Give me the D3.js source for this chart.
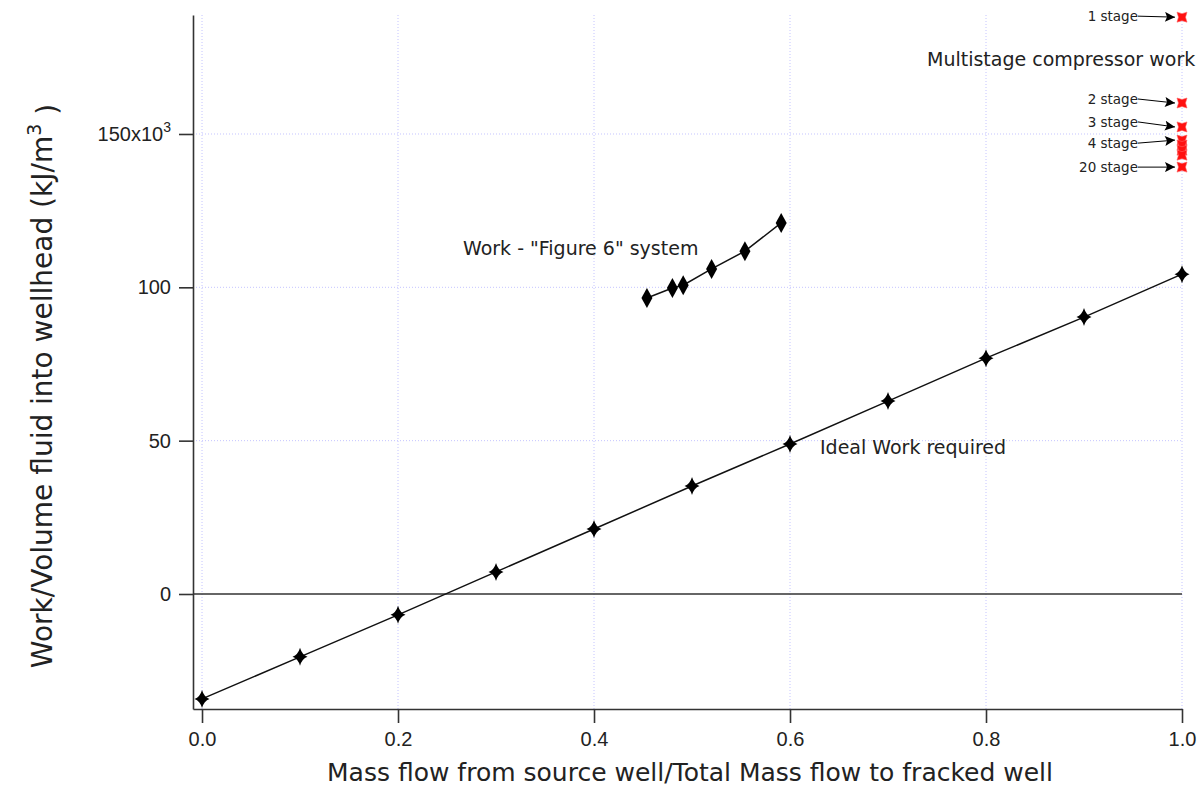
<!DOCTYPE html>
<html>
<head>
<meta charset="utf-8">
<title>Work per volume vs mass flow fraction</title>
<script src="https://d3js.org/d3.v7.min.js"></script>
<style>
  body { margin: 0; background: #fff; }
  svg { display: block; font-family: "DejaVu Sans", Verdana, sans-serif; }
  .axis path, .axis line { stroke: #333; stroke-width: 1.6; fill: none; }
  .axis text { font-size: 20px; fill: #222; }
  .grid line { stroke: #c4c4ff; stroke-width: 1; stroke-dasharray: 1,2; }
  .note { font-size: 19px; fill: #222; }
  .stage { font-size: 13.5px; fill: #222; }
</style>
</head>
<body>
<div id="chart"></div>
<script>
// ideal work, x = 0.0 .. 1.0 in steps of 0.1
var idealX = [0.0, 0.1, 0.2, 0.3, 0.4, 0.5, 0.6, 0.7, 0.8, 0.9, 1.0];
var idealWork = [-34.2, -20.5, -6.8, 7.2, 21.2, 35.2, 48.9, 62.9, 76.9, 90.3, 104.3];

// "Figure 6" system
var fig6X = [0.454, 0.480, 0.491, 0.520, 0.554, 0.591];
var fig6Work = [96.5, 99.8, 100.7, 106.0, 111.8, 121.0];

// multistage compressor, all at x = 1.0
var stages = [1, 2, 3, 4, 5, 6, 8, 20];
var stageWork = [188.1, 160.1, 152.3, 148.0, 146.4, 144.7, 143.1, 139.2];
var labelledStages = [1, 2, 3, 4, 20];

var xTicks = [0, 0.2, 0.4, 0.6, 0.8, 1.0];
var yTicks = [0, 50, 100, 150];

var width = 1202, height = 789;

var svg = d3.select("#chart").append("svg")
    .attr("width", width)
    .attr("height", height);

var x = d3.scaleLinear().domain([-0.0092, 1.0]).range([193, 1182]);
var y = d3.scaleLinear().domain([-37.5, 188.8]).range([709, 15]);

// grid
var grid = svg.append("g").attr("class", "grid");
grid.selectAll(".gx").data(xTicks).enter().append("line")
    .attr("x1", d => x(d)).attr("x2", d => x(d))
    .attr("y1", y.range()[1]).attr("y2", y.range()[0]);
grid.selectAll(".gy").data(yTicks.filter(d => d !== 0)).enter().append("line")
    .attr("x1", x.range()[0]).attr("x2", x.range()[1])
    .attr("y1", d => y(d)).attr("y2", d => y(d));

// zero line
svg.append("line")
    .attr("x1", x.range()[0]).attr("x2", x(1))
    .attr("y1", y(0)).attr("y2", y(0))
    .attr("stroke", "#333").attr("stroke-width", 1.5);

// axes
svg.append("g")
    .attr("class", "axis")
    .attr("transform", "translate(0," + y.range()[0] + ")")
    .call(d3.axisBottom(x).tickValues(xTicks).tickFormat(d3.format(".1f"))
        .tickSize(14).tickSizeOuter(0).tickPadding(9));

var yAxisG = svg.append("g")
    .attr("class", "axis")
    .attr("transform", "translate(" + x.range()[0] + ",0)")
    .call(d3.axisLeft(y).tickValues(yTicks).tickFormat(d3.format("d"))
        .tickSize(14).tickSizeOuter(0).tickPadding(8));

// 150x10^3 label
yAxisG.selectAll(".tick text").filter(d => d === 150)
    .text(null)
    .call(function(t) {
        t.append("tspan").text("150x10");
        t.append("tspan").attr("dy", "-0.6em").attr("font-size", "14px").text("3");
    });

// axis titles
svg.append("text")
    .attr("x", 690).attr("y", 781)
    .attr("text-anchor", "middle")
    .attr("font-size", "25px").attr("fill", "#222")
    .text("Mass flow from source well/Total Mass flow to fracked well");

var yt = svg.append("text")
    .attr("transform", "translate(52,386) rotate(-90)")
    .attr("text-anchor", "middle")
    .attr("font-size", "28px").attr("fill", "#222");
yt.append("tspan").text("Work/Volume fluid into wellhead (kJ/m");
yt.append("tspan").attr("dy", "-0.6em").attr("font-size", "19px").text("3");
yt.append("tspan").attr("dy", "0.6em").text(" )");

// markers
var starPath = "M0,-9 Q2,-2 7.5,0 Q2,2 0,9 Q-2,2 -7.5,0 Q-2,-2 0,-9Z";
var diamondPath = "M0,-10 L5.5,0 L0,10 L-5.5,0Z";
var bowPath = "M-5,-5 L0,-3.5 L5,-5 L3.5,0 L5,5 L0,3.5 L-5,5 L-3.5,0Z";

var line = d3.line().x(d => x(d[0])).y(d => y(d[1]));

var ideal = d3.zip(idealX, idealWork);
svg.append("path").datum(ideal)
    .attr("d", line).attr("fill", "none")
    .attr("stroke", "#111").attr("stroke-width", 1.5);
svg.selectAll(".ideal").data(ideal).enter().append("path")
    .attr("d", starPath)
    .attr("transform", d => "translate(" + x(d[0]) + "," + y(d[1]) + ")")
    .attr("fill", "#000");

var fig6 = d3.zip(fig6X, fig6Work);
svg.append("path").datum(fig6)
    .attr("d", line).attr("fill", "none")
    .attr("stroke", "#111").attr("stroke-width", 1.5);
svg.selectAll(".fig6").data(fig6).enter().append("path")
    .attr("d", diamondPath)
    .attr("transform", d => "translate(" + x(d[0]) + "," + y(d[1]) + ")")
    .attr("fill", "#000");

svg.selectAll(".stagept").data(stageWork).enter().append("path")
    .attr("d", bowPath)
    .attr("transform", d => "translate(" + x(1) + "," + y(d) + ")")
    .attr("fill", "#ff1010").attr("stroke", "#ff6060").attr("stroke-width", 0.6);

// arrows to stage points
svg.append("defs").append("marker")
    .attr("id", "arrow")
    .attr("viewBox", "0 0 10 10")
    .attr("refX", 10).attr("refY", 5)
    .attr("markerWidth", 20).attr("markerHeight", 10)
    .attr("markerUnits", "userSpaceOnUse")
    .attr("orient", "auto")
    .append("path").attr("d", "M0,0 L10,5 L0,10 L2,5Z").attr("fill", "#000");

// label offset from the point (px): how far the text sits above/below
var labelShift = {1: -1, 2: -4, 3: -5, 4: 3, 20: 0};

labelledStages.forEach(function(s) {
    var w = stageWork[stages.indexOf(s)];
    var py = y(w), ly = py + labelShift[s];
    svg.append("text").attr("class", "stage")
        .attr("x", x(1) - 44).attr("y", ly).attr("dy", "0.35em")
        .attr("text-anchor", "end")
        .text(s + " stage");
    svg.append("line")
        .attr("x1", x(1) - 44).attr("y1", ly)
        .attr("x2", x(1) - 7).attr("y2", py)
        .attr("stroke", "#000").attr("stroke-width", 1)
        .attr("marker-end", "url(#arrow)");
});

// annotations
svg.append("text").attr("class", "note")
    .attr("x", 927).attr("y", 59).attr("dy", "0.35em")
    .text("Multistage compressor work");
svg.append("text").attr("class", "note")
    .attr("x", 463).attr("y", 248).attr("dy", "0.35em")
    .text("Work - \"Figure 6\" system");
svg.append("text").attr("class", "note")
    .attr("x", 820).attr("y", 447).attr("dy", "0.35em")
    .text("Ideal Work required");
</script>
</body>
</html>
